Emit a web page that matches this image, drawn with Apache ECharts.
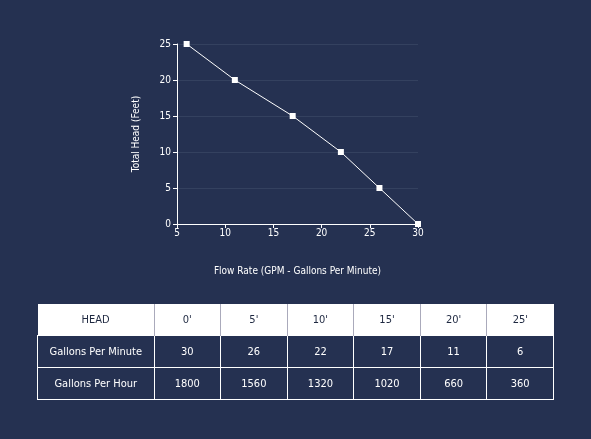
<!DOCTYPE html>
<html><head><meta charset="utf-8">
<script src="https://cdn.jsdelivr.net/npm/echarts@6/dist/echarts.min.js"></script>
<style>
html,body{margin:0;padding:0;background:#253151;}
#c{width:591px;height:439px;position:absolute;left:0;top:0;}
table{position:absolute;left:37px;top:304px;width:517px;border-collapse:collapse;font-family:"DejaVu Sans Condensed","Roboto",sans-serif;font-size:11px;text-align:center;table-layout:fixed;}
td{height:31px;padding:0;border:1px solid #fff;color:#fff;background:#253151;}
tr.h td{background:#fff;color:#1e2840;border:none;border-left:1px solid #aab;}
tr.h td:first-child{border-left:none;}
</style></head><body>
<div id="c"></div>
<table id="t"></table>
<script>
const flow = [6, 11, 17, 22, 26, 30];
const head = [25, 20, 15, 10, 5, 0];
const headLabels = ["0'", "5'", "10'", "15'", "20'", "25'"];
const gpm = [30, 26, 22, 17, 11, 6];
const gph = [1800, 1560, 1320, 1020, 660, 360];

const chart = echarts.init(document.getElementById('c'));
const font = '"DejaVu Sans Condensed", Roboto, sans-serif';
chart.setOption({
  backgroundColor: '#253151',
  grid: {left: 177, right: 173, top: 44, bottom: 215},
  xAxis: {type: 'value', min: 5, max: 30, interval: 5,
    name: 'Flow Rate (GPM - Gallons Per Minute)', nameLocation: 'middle', nameGap: 42,
    nameTextStyle: {color: '#fff', fontSize: 10, fontFamily: font},
    axisLine: {lineStyle: {color: '#fff'}}, axisTick: {show: true, length: 4, lineStyle: {color: '#fff'}},
    axisLabel: {color: '#fff', fontSize: 10, fontFamily: font, margin: 4},
    splitLine: {show: false}},
  yAxis: {type: 'value', min: 0, max: 25, interval: 5,
    name: 'Total Head (Feet)', nameLocation: 'middle', nameGap: 36,
    nameTextStyle: {color: '#fff', fontSize: 10, fontFamily: font},
    axisLine: {show: true, lineStyle: {color: '#fff'}}, axisTick: {show: true, length: 4, lineStyle: {color: '#fff'}},
    axisLabel: {color: '#fff', fontSize: 10, fontFamily: font, margin: 6},
    splitLine: {show: true, lineStyle: {color: '#34415f'}}},
  series: [{type: 'line', data: flow.map((f, i) => [f, head[i]]),
    symbol: 'rect', symbolSize: 6, lineStyle: {color: '#fff', width: 1},
    itemStyle: {color: '#fff'}, animation: false}]
});

const t = document.getElementById('t');
function row(label, vals, cls) {
  const tr = document.createElement('tr');
  if (cls) tr.className = cls;
  [label, ...vals].forEach((v, i) => {
    const td = document.createElement('td');
    td.textContent = v;
    if (i === 0) td.style.width = '116px';
    tr.appendChild(td);
  });
  t.appendChild(tr);
}
row('HEAD', headLabels, 'h');
row('Gallons Per Minute', gpm);
row('Gallons Per Hour', gph);
</script>
</body></html>
